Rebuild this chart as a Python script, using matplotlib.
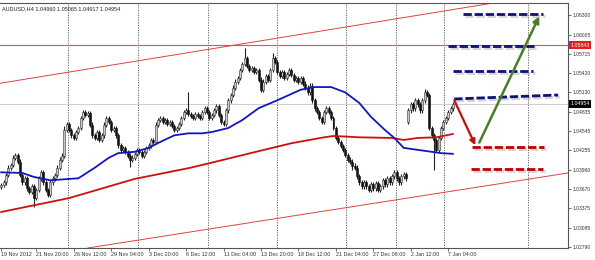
import matplotlib

matplotlib.use("Agg")
import matplotlib.pyplot as plt
import matplotlib.patheffects as pe
import matplotlib.transforms as mtransforms
import numpy as np


SYMBOL = "AUDUSD,H4 1.04960 1.05065 1.04917 1.04954"

# H4 closes, one per bar (opens are the previous close)
FIRST_OPEN = 1.0370
closes = [
    1.0373, 1.0377, 1.0388, 1.0399, 1.0403, 1.0414, 1.0418, 1.0408, 1.0388, 1.0377,
    1.0383, 1.0368, 1.0362, 1.0371, 1.0353, 1.0365, 1.0383, 1.0392, 1.0377, 1.0365,
    1.0358, 1.0377, 1.0383, 1.0388, 1.0399, 1.0411, 1.0417, 1.0456, 1.0465, 1.0456,
    1.0448, 1.0444, 1.0453, 1.0459, 1.0474, 1.0483, 1.0479, 1.0482, 1.0464, 1.0448,
    1.0444, 1.0453, 1.0441, 1.0448, 1.0464, 1.0474, 1.0468, 1.0456, 1.0459, 1.0448,
    1.0433, 1.0426, 1.0429, 1.0423, 1.0417, 1.0411, 1.0414, 1.0420, 1.0426, 1.0423,
    1.0417, 1.0423, 1.0429, 1.0433, 1.0441, 1.0438, 1.0464, 1.0471, 1.0474, 1.0468,
    1.0471, 1.0465, 1.0468, 1.0462, 1.0456, 1.0459, 1.0465, 1.0474, 1.0483, 1.0486,
    1.0480, 1.0477, 1.0474, 1.0480, 1.0477, 1.0474, 1.0483, 1.0489, 1.0483, 1.0474,
    1.0479, 1.0486, 1.0492, 1.0479, 1.0468, 1.0465, 1.0486, 1.0501, 1.0509, 1.0520,
    1.0529, 1.0535, 1.0547, 1.0556, 1.0565, 1.0553, 1.0547, 1.0550, 1.0544, 1.0547,
    1.0532, 1.0517, 1.0529, 1.0538, 1.0532, 1.0547, 1.0565, 1.0559, 1.0544, 1.0538,
    1.0544, 1.0535, 1.0541, 1.0547, 1.0539, 1.0532, 1.0535, 1.0529, 1.0535, 1.0526,
    1.0520, 1.0513, 1.0523, 1.0501, 1.0489, 1.0483, 1.0474, 1.0468, 1.0483, 1.0489,
    1.0483, 1.0474, 1.0459, 1.0444, 1.0438, 1.0432, 1.0426, 1.0418, 1.0411, 1.0408,
    1.0402, 1.0399, 1.0386, 1.0377, 1.0371, 1.0377, 1.0371, 1.0365, 1.0374, 1.0368,
    1.0376, 1.0365, 1.0371, 1.0380, 1.0374, 1.0383, 1.0377, 1.0386, 1.0392, 1.0383,
    1.0377, 1.0386, 1.0389, 1.0383, 1.0486, 1.0495, 1.0489, 1.0501, 1.0495, 1.0486,
    1.0501, 1.0513, 1.0509, 1.0459, 1.0448, 1.0441, 1.0426, 1.0444, 1.0459, 1.0468,
    1.0474, 1.0483, 1.0489, 1.04954,
]
gap_opens = {174: 1.0468}
long_highs = {80: 1.0513, 104: 1.0580, 116: 1.0572, 181: 1.0518, 27: 1.0462}
long_lows = {14: 1.0339, 55: 1.0400, 174: 1.0466, 185: 1.0396, 150: 1.0396}
WICK = 0.00035

# moving averages (bar index, price)
blue_ma_bars = [0, 9, 14, 21, 33, 40, 46, 50, 57, 63, 68, 74, 80, 86, 90, 97,
                103, 110, 118, 128, 134, 141, 147, 153, 158, 164, 168, 172,
                178, 184, 188, 193]
blue_ma = [1.0392, 1.0391, 1.0385, 1.0380, 1.0383, 1.0399, 1.0414, 1.0421,
           1.0423, 1.0429, 1.0438, 1.0448, 1.0451, 1.0451, 1.0453, 1.0459,
           1.0471, 1.0489, 1.0501, 1.0517, 1.0521, 1.0521, 1.0513, 1.0497,
           1.0476, 1.0456, 1.0444, 1.0429, 1.0426, 1.0423, 1.0421, 1.0420]
red_ma_bars = [0, 29, 57, 81, 95, 110, 124, 138, 142, 153, 167, 172, 178, 186, 193]
red_ma = [1.0332, 1.0353, 1.0382, 1.0399, 1.0411, 1.0424, 1.0436, 1.0445,
          1.0447, 1.0445, 1.0444, 1.0441, 1.0444, 1.0445, 1.0450]

x_ticks = [0, 15, 31, 47, 63, 79, 95, 111, 127, 143, 159, 175, 191]
x_labels = ["19 Nov 2012", "21 Nov 20:00", "26 Nov 12:00", "29 Nov 04:00",
            "3 Dec 20:00", "6 Dec 12:00", "11 Dec 04:00", "13 Dec 20:00",
            "18 Dec 12:00", "21 Dec 04:00", "27 Dec 08:00", "2 Jan 12:00",
            "7 Jan 04:00"]
week_lines = [28.6, 58.5, 88.5, 118, 147.4, 168.8, 189.3, 225.2]
y_ticks = [1.06300, 1.06005, 1.05715, 1.05420, 1.05130, 1.04835, 1.04545,
           1.04255, 1.03960, 1.03670, 1.03375, 1.03085, 1.02790]

LEVEL = 1.05843
LAST = 1.04954

upper_channel = [(0, 1.0527), (85, 1.0576)]
lower_channel = [(39.7, 1.0279), (188, 1.0361)]

# dashed target lines: (bar start, bar end, price start, price end)
blue_targets = [
    (197.4, 231.6, 1.0631, 1.0631),
    (191.0, 228.6, 1.0583, 1.0583),
    (193.2, 227.4, 1.0546, 1.0546),
    (193.6, 238.0, 1.0503, 1.0509),
]
red_targets = [
    (201.3, 232.0, 1.0431, 1.0431),
    (200.9, 231.6, 1.0397, 1.0397),
]
down_arrow = ((193.6, 1.0501), (202.6, 1.0433))
up_arrow = ((204.3, 1.0437), (229.9, 1.0628))

FONT = ["Liberation Sans", "DejaVu Sans"]


def main() -> None:
    plt.rcParams["font.family"] = FONT

    n = len(closes)
    idx = np.arange(n)
    c = np.array(closes)
    o = np.concatenate([[FIRST_OPEN], c[:-1]])
    for i, v in gap_opens.items():
        o[i] = v
    hi = np.maximum(o, c) + WICK
    lo = np.minimum(o, c) - WICK
    for i, v in long_highs.items():
        hi[i] = max(hi[i], v)
    for i, v in long_lows.items():
        lo[i] = min(lo[i], v)

    fig = plt.figure(figsize=(5.95, 2.6), dpi=100)
    ax = fig.add_axes([0, 12 / 260, 568 / 595, 245 / 260])
    ax.set_xlim(-0.5, 242.2)
    ax.set_ylim(1.02775, 1.06482)

    for xv in week_lines:
        ax.axvline(xv, color="#555555", lw=0.6, ls=(0, (1.5, 1.5)), zorder=1)

    ax.axhline(LAST, color="#c8c8c8", lw=0.6, zorder=1)
    ax.axhline(LEVEL, color="#e25050", lw=0.8, zorder=2)
    ax.axline(*upper_channel, color="#e04040", lw=0.7, zorder=2)
    ax.axline(*lower_channel, color="#e04040", lw=0.7, zorder=2)

    # candles
    ax.vlines(idx, lo, hi, color="#222222", lw=0.8, zorder=3)
    body = np.maximum(np.abs(c - o), 0.00006)
    bull = c >= o
    ax.bar(idx[bull], body[bull], bottom=np.minimum(o, c)[bull], width=0.85,
           color="#c8c8c8", edgecolor="#333333", lw=0.4, zorder=4)
    ax.bar(idx[~bull], body[~bull], bottom=np.minimum(o, c)[~bull], width=0.85,
           color="#111111", edgecolor="#111111", lw=0.4, zorder=4)

    ax.plot(red_ma_bars, red_ma, color="#cc1010", lw=1.3, zorder=5)
    ax.plot(blue_ma_bars, blue_ma, color="#1515c0", lw=1.3, zorder=5)

    shadow = [pe.SimpleLineShadow(offset=(1.2, -1.5), shadow_color="#888888",
                                  alpha=0.35), pe.Normal()]
    for x0, x1, y0, y1 in blue_targets:
        ax.plot([x0, x1], [y0, y1], color="#10107a", lw=2.0,
                ls=(0, (3, 1)), path_effects=shadow, zorder=6)
    for x0, x1, y0, y1 in red_targets:
        ax.plot([x0, x1], [y0, y1], color="#c00000", lw=2.0,
                ls=(0, (3, 1)), path_effects=shadow, zorder=6)

    ax.annotate("", xy=down_arrow[1], xytext=down_arrow[0],
                arrowprops=dict(arrowstyle="-|>", color="#c01010", lw=1.6,
                                mutation_scale=8, shrinkA=0, shrinkB=0),
                zorder=7)
    ax.annotate("", xy=up_arrow[1], xytext=up_arrow[0],
                arrowprops=dict(arrowstyle="-|>", color="#4a7d2a", lw=1.8,
                                mutation_scale=9, shrinkA=0, shrinkB=0),
                zorder=7)

    # axes cosmetics
    ax.spines["left"].set_visible(False)
    for side in ("top", "bottom", "right"):
        ax.spines[side].set_color("#555555")
        ax.spines[side].set_linewidth(0.8)
    ax.yaxis.tick_right()
    ax.set_yticks(y_ticks)
    ax.set_yticklabels([f"{v:.5f}" for v in y_ticks])
    ax.set_xticks(x_ticks)
    ax.set_xticklabels(x_labels, ha="left")
    ax.tick_params(axis="y", labelsize=3.6, length=2, width=0.5,
                   colors="#333333", pad=1.5)
    ax.tick_params(axis="x", labelsize=3.9, length=2, width=0.5,
                   colors="#333333", pad=1)

    trans = mtransforms.blended_transform_factory(ax.transAxes, ax.transData)
    ax.text(1.004, LEVEL, "1.05843", transform=trans, fontsize=3.8,
            color="white", va="center", ha="left",
            bbox=dict(boxstyle="square,pad=0.3", fc="#e02020", ec="none"),
            zorder=10, clip_on=False)
    ax.text(1.004, LAST, "1.04954", transform=trans, fontsize=3.8,
            color="white", va="center", ha="left",
            bbox=dict(boxstyle="square,pad=0.3", fc="black", ec="none"),
            zorder=10, clip_on=False)

    ax.text(0.004, 0.985, SYMBOL, transform=ax.transAxes, fontsize=4.0,
            color="#222222", va="top", ha="left")

    fig.savefig("out.png", dpi=100)
    plt.close(fig)


if __name__ == "__main__":
    main()
